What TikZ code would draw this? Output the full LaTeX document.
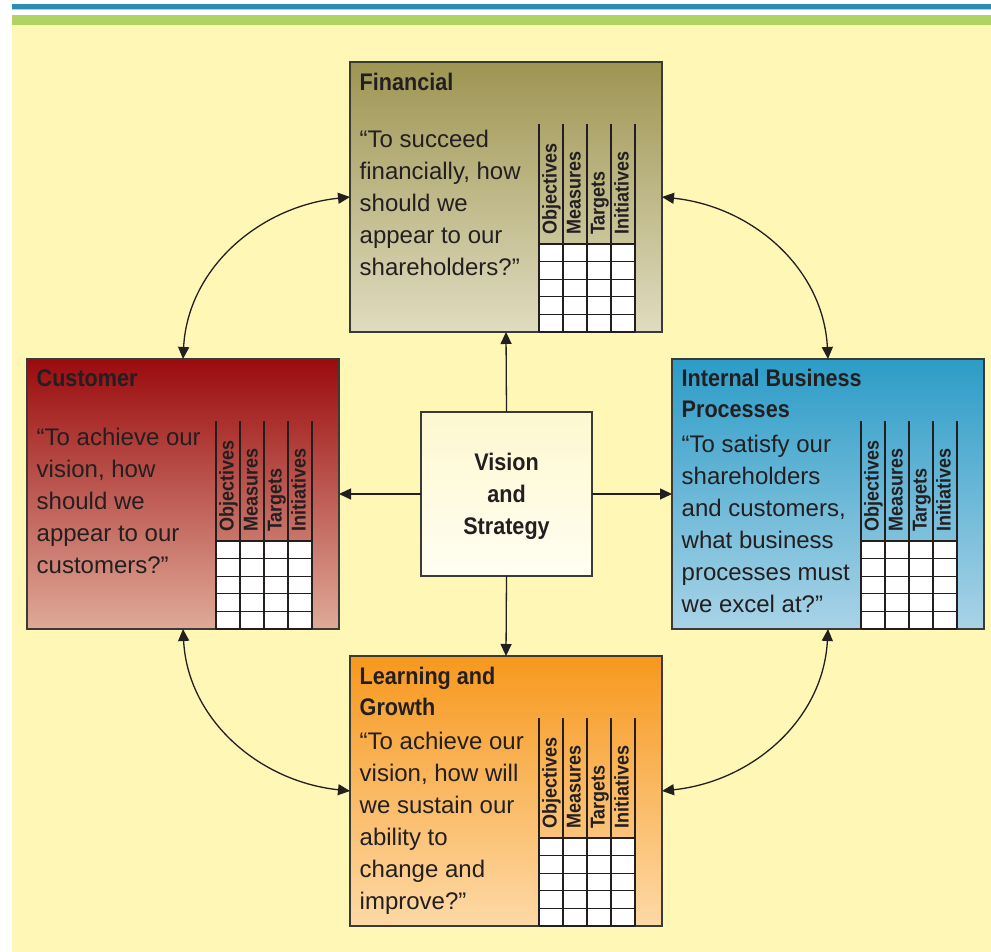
\documentclass[tikz,border=0pt]{standalone}
\usepackage{fontspec}
\newfontfamily\bscbody{Liberation Sans}
\newfontfamily\bschead{Liberation Sans}[FakeStretch=0.9]
\usetikzlibrary{arrows.meta,calc}

\definecolor{bg}{HTML}{FEF7B5}
\definecolor{barblue}{HTML}{2A8DB1}
\definecolor{barlight}{HTML}{A7D5E6}
\definecolor{bargreen}{HTML}{B1D362}
\definecolor{ink}{HTML}{231F20}
\definecolor{boxline}{HTML}{3A3A36}
\definecolor{finTop}{HTML}{9E9552}
\definecolor{finBot}{HTML}{E0DCC0}
\definecolor{custTop}{HTML}{9B0B0E}
\definecolor{custBot}{HTML}{DFAA98}
\definecolor{intTop}{HTML}{2C9CC7}
\definecolor{intBot}{HTML}{A9D3E7}
\definecolor{learnTop}{HTML}{F7981E}
\definecolor{learnBot}{HTML}{FDD9A6}
\definecolor{visTop}{HTML}{FDF8D0}
\definecolor{visBot}{HTML}{FFFEF2}

\tikzset{
  panel/.style={draw=boxline, line width=1.4pt, minimum width=312pt,
    minimum height=270pt, inner sep=0pt, outer sep=0pt},
  tabline/.style={draw=ink, line width=1.2pt},
  tip/.tip={Triangle[length=12pt,width=11pt]},
  link/.style={draw=ink, line width=1.3pt, -tip},
  duallink/.style={draw=ink, line width=1.3pt, tip-tip},
  head/.style={anchor=base west, inner sep=0pt, text=ink,
    font=\bschead\bfseries\fontsize{24}{31}\selectfont},
  body/.style={anchor=base west, inner sep=0pt, text=ink,
    font=\bscbody\fontsize{24}{32}\selectfont},
  colhead/.style={rotate=90, anchor=base west, inner sep=0pt, text=ink,
    font=\bschead\bfseries\fontsize{20}{20}\selectfont},
}

% scorecard grid in the lower right of a panel: four rotated column
% headings above five empty rows
\newcommand\bsctable[1]{%
  \begin{scope}[shift={(#1.south west)}]
    \fill[white] (189,0) rectangle (285,88);
    \foreach \c in {0,1,2,3,4}
      \draw[tabline] (189+24*\c,0) -- (189+24*\c,208);
    \foreach \r in {0,1,2,3,4,5}
      \draw[tabline] (189,17.6*\r) -- (285,17.6*\r);
    \foreach \lbl [count=\c from 0] in {Objectives,Measures,Targets,Initiatives}
      \node[colhead] (#1-col\c) at (189+24*\c+17.5,97) {\lbl};
  \end{scope}}

\begin{document}
\begin{tikzpicture}[x=1pt,y=1pt]
  \useasboundingbox (0,0) rectangle (991,952);
  \fill[white] (0,0) rectangle (991,952);
  % page background and header bars
  \fill[bg] (12,0) rectangle (991,927);
  \fill[bargreen] (12,927) rectangle (991,937);
  \fill[barlight] (12,942) rectangle (991,943.2);
  \fill[barblue] (12,943) rectangle (991,948);

  % the four perspectives and the centre
  \node[panel, top color=finTop, bottom color=finBot] (fin) at (506,755) {};
  \node[panel, top color=custTop, bottom color=custBot] (cust) at (183,458) {};
  \node[panel, top color=intTop, bottom color=intBot] (int) at (828,458) {};
  \node[panel, top color=learnTop, bottom color=learnBot] (learn) at (506,161) {};
  \node[draw=boxline, line width=1.4pt, minimum width=171pt, minimum height=164pt,
        inner sep=0pt, outer sep=0pt, top color=visTop, bottom color=visBot]
        (vis) at (506.5,458) {};

  \bsctable{fin}
  \bsctable{cust}
  \bsctable{int}
  \bsctable{learn}

  % headings
  \node[head] (finHead) at ([shift={(9.5,-29)}]fin.north west) {Financial};
  \node[head] (custHead) at ([shift={(9.5,-28)}]cust.north west) {Customer};
  \node[head] (intHead) at ([shift={(9.5,-28)}]int.north west)
    {\parbox[t]{290pt}{Internal Business\\Processes}};
  \node[head] (learnHead) at ([shift={(9.5,-29)}]learn.north west)
    {\parbox[t]{290pt}{Learning and\\Growth}};

  % questions
  \node[body] (finText) at ([shift={(9.5,-86)}]fin.north west)
    {\parbox[t]{185pt}{“To succeed\\financially, how\\should we\\appear to our\\shareholders?”}};
  \node[body] (custText) at ([shift={(9.5,-87)}]cust.north west)
    {\parbox[t]{185pt}{“To achieve our\\vision, how\\should we\\appear to our\\customers?”}};
  \node[body] (intText) at ([shift={(9.5,-94)}]int.north west)
    {\parbox[t]{185pt}{“To satisfy our\\shareholders\\and customers,\\what business\\processes must\\we excel at?”}};
  \node[body] (learnText) at ([shift={(9.5,-94)}]learn.north west)
    {\parbox[t]{185pt}{“To achieve our\\vision, how will\\we sustain our\\ability to\\change and\\improve?”}};

  \node[anchor=base, inner sep=0pt, text=ink,
        font=\bschead\bfseries\fontsize{24}{32}\selectfont] (visText)
    at ([yshift=-59]vis.north)
    {\parbox[t]{160pt}{\centering Vision\\and\\Strategy}};

  % links from the centre
  \draw[link] (vis.north) -- (fin.south);
  \draw[link] (vis.west) -- (cust.east);
  \draw[link] (vis.east) -- (int.west);
  \draw[link] (vis.south) -- (learn.north);

  % links around the ring
  \draw[duallink] (cust.north) to[out=87,in=186] (fin.west);
  \draw[duallink] (int.north) to[out=93,in=-6] (fin.east);
  \draw[duallink] (cust.south) to[out=-87,in=174] (learn.west);
  \draw[duallink] (int.south) to[out=-93,in=6] (learn.east);
\end{tikzpicture}
\end{document}
